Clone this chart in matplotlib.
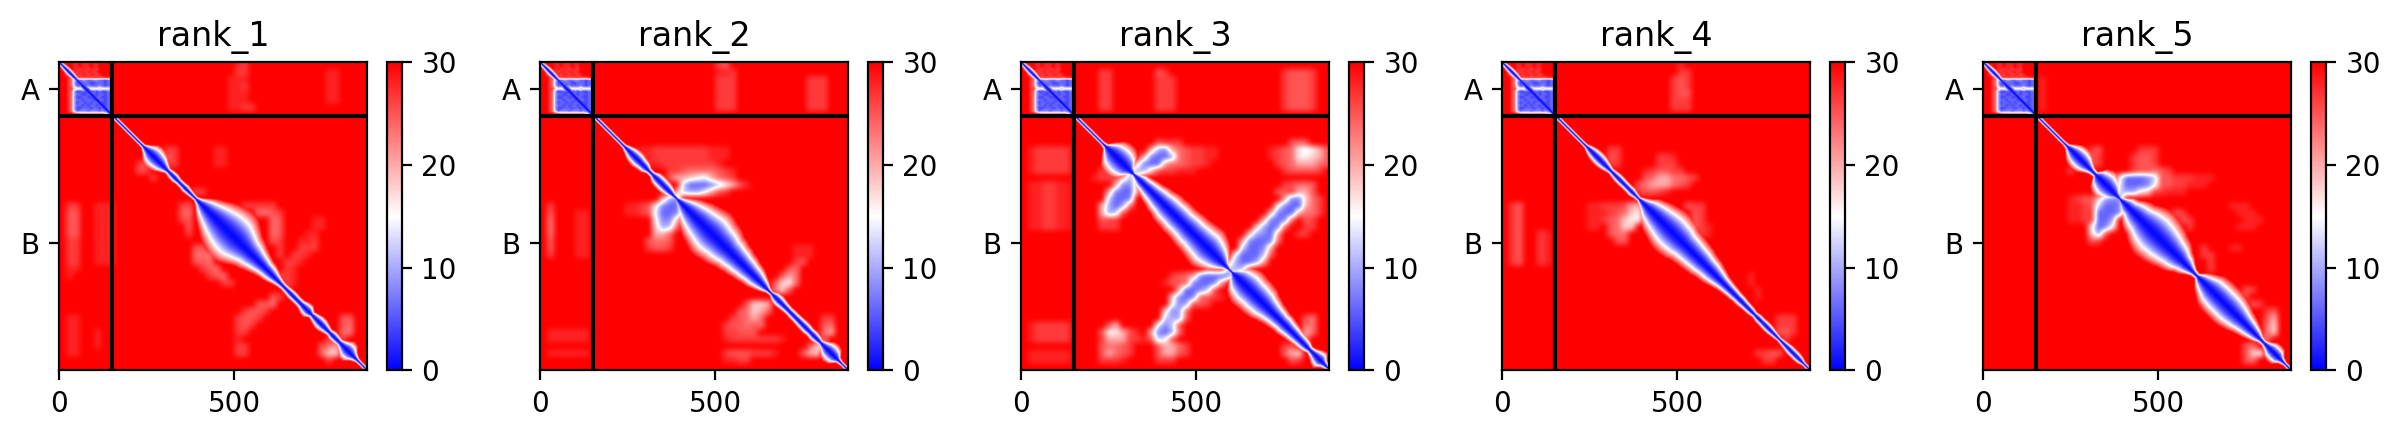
import numpy as np
import matplotlib
matplotlib.use("Agg")
import matplotlib.pyplot as plt

DPI = 200
chain_lengths = [152, 726]
chain_names = ["A", "B"]
titles = ["rank_1", "rank_2", "rank_3", "rank_4", "rank_5"]
panel_left_px = [59, 540, 1021, 1502, 1983]

# half-width (residues, |i-j|) of the blue band along the diagonal
band_pos_shared = [0, 10, 20, 30, 40, 50, 60, 70, 80, 90, 100, 110, 120, 130, 140, 150, 160, 170, 180, 190, 200, 210, 220, 230]
band_w_shared = [5, 6, 8, 9, 8, 6, 9, 12, 14, 14, 14, 14, 14, 14, 10, 6, 5, 5, 5, 5, 5, 5, 5, 5]
band_pos_rest = list(range(240, 890, 10))
rank_1_band = [6,16,28,32,30,25,16,8,11,12,
               9,9,11,9,7,6,14,26,36,44,
               52,60,66,72,76,78,78,74,66,58,
               50,46,40,35,30,26,24,20,15,11,
               9,10,12,12,11,12,17,19,9,13,
               17,17,13,9,13,12,10,18,28,26,
               13,6,5,5,5]
rank_2_band = [6,12,18,21,21,18,16,8,8,16,
               18,18,17,14,8,6,16,26,36,44,
               50,56,60,64,68,70,68,64,62,58,
               52,50,46,44,40,38,34,32,28,22,
               16,8,6,14,16,14,12,11,12,12,
               13,14,14,12,14,12,8,16,26,28,
               24,8,5,5,5]
rank_3_band = [8,26,42,48,50,48,40,18,6,14,
               22,24,28,31,34,38,40,44,46,46,
               48,48,48,50,52,52,54,56,58,60,
               56,50,42,30,14,6,6,28,44,50,
               54,54,52,52,50,48,42,38,34,32,
               29,29,26,24,22,20,19,16,10,14,
               22,26,12,6,5]
rank_4_band = [6,12,16,18,18,16,12,8,10,12,
               12,11,11,12,8,6,14,24,36,42,
               48,52,56,60,62,62,60,58,52,50,
               48,46,44,42,38,36,34,30,26,22,
               20,18,17,15,15,13,12,11,8,11,
               11,12,12,10,8,6,8,10,12,12,
               12,10,5,5,5]
rank_5_band = [7,18,28,32,32,28,18,10,8,30,
               38,42,38,30,14,6,16,28,32,42,
               48,52,60,66,70,72,70,68,64,60,
               54,50,44,34,28,18,10,8,22,32,
               40,48,50,52,52,52,52,50,46,42,
               36,32,28,23,18,10,8,14,24,26,
               24,10,5,5,5]

# PAE value for each hex digit used in the tables below
digit_to_pae = [0, 2, 4, 6, 8, 10, 12, 14, 16, 18, 20, 23.5, 25, 26.5, 28, 30]

# chain A block: hex digits per 8-residue cell
chain_a_block = [
    "0dfffeefeeefeefffff",
    "d1dffeefeeefeefffff",
    "fd1cfeedeedeedfffff",
    "ffc1cedeedeedefffff",
    "ffdc2cedeedeedeffff",
    "fffdc8cdddddddddeef",
    "fffdb63344334433233",
    "fffdb52233322333233",
    "fffdb63333433343233",
    "fffdd9888a8888a8886",
    "fffdb52232323232233",
    "fffdb53322333233233",
    "fffdb52233222332233",
    "fffdb53323332233233",
    "fffdb52332323332233",
    "fffdb53323233233233",
    "fffdb52233323323233",
    "fffdb63444344434333",
    "fffffedbbbbbbbbb8bf",
]

# off-diagonal cells on a 20-residue grid: (row, first column, hex digits)
rank_1_cells = [
    (0,25,"ed"),(1,25,"dd"),(2,24,"eee"),(3,24,"eed"),(4,24,"eee"),(5,24,"eee"),(6,24,"eedd"),
    (1,38,"ee"),(2,38,"ee"),(3,38,"ee"),(4,38,"ee"),(5,38,"ee"),
    (20,1,"dd"),(21,1,"cc"),(22,1,"cc"),(23,1,"cc"),(24,1,"cc"),(25,1,"dd"),(26,1,"dd"),(27,1,"dd"),(28,1,"dd"),(29,1,"ee"),(30,1,"e"),
    (20,5,"eee"),(21,5,"eee"),(22,5,"eee"),(23,5,"eee"),(24,5,"eee"),(25,5,"eee"),(26,5,"eee"),(27,5,"eee"),(28,5,"eee"),
    (36,1,"ee"),(37,1,"ee"),(38,1,"ee"),(39,1,"ee"),(40,1,"ee"),(41,1,"ee"),(38,5,"e"),(39,5,"e"),(40,5,"e"),
    (20,26,"ddddd"),(21,28,"bbcd"),(22,30,"bc"),(23,30,"bc"),(24,30,"bc"),(25,30,"cd"),(26,31,"d"),(27,31,"d"),
    (26,19,"cc"),(27,19,"bbb"),(28,19,"ccb"),(29,20,"dcb"),(30,21,"dcb"),(31,23,"dd"),
    (20,17,"dc"),(21,17,"cb"),(22,17,"dc"),(23,18,"c"),(24,18,"d"),
    (22,36,"ee"),(23,36,"ee"),(24,35,"ee"),(25,34,"eed"),(26,34,"ddd"),(27,33,"dde"),(28,32,"dde"),(29,32,"de"),(30,31,"dde"),(31,32,"de"),(32,32,"d"),
    (33,30,"cd"),(34,28,"ccb"),(35,26,"dccd"),(36,25,"dccd"),(37,25,"dcd"),(38,25,"dd"),(39,25,"e"),(40,25,"dd"),(41,25,"dd"),
    (39,38,"d"),(40,37,"cba"),(41,37,"b99"),(42,38,"d"),(36,40,"cc"),(37,40,"cb"),(38,40,"bb"),(39,40,"d"),
    (12,15,"dd"),(13,15,"cd"),(14,15,"dd"),(14,11,"dc"),(15,11,"cd"),(16,13,"d"),
    (12,22,"ee"),(13,22,"ee"),(14,22,"ee"),(18,19,"dd"),
]
rank_2_cells = [
    (0,25,"dc"),(1,25,"eed"),(2,25,"ddd"),(3,25,"ddd"),(4,25,"ddd"),(5,25,"ddd"),(6,25,"ddd"),
    (2,38,"ddd"),(3,38,"ddd"),(4,38,"ddd"),(5,38,"ddd"),(6,38,"ddd"),
    (20,1,"d"),(21,1,"c"),(22,1,"b"),(23,1,"b"),(24,1,"b"),(25,1,"c"),(26,1,"c"),(27,1,"d"),
    (21,5,"ee"),(22,5,"ee"),(23,5,"ee"),(24,5,"ee"),(25,5,"ee"),(26,5,"ee"),(27,5,"ee"),
    (38,1,"eeeeee"),(39,1,"eeeeee"),(41,1,"eeeeee"),
    (12,14,"eeddddddddeee"),(13,14,"eeddddddddeee"),(14,15,"eedddddddde"),
    (15,18,"ddcbbbbcde"),(16,18,"caa987abcd"),(17,20,"6333468ace"),(18,19,"a6557acd"),
    (20,12,"eedc"),(21,12,"eedc"),(19,17,"a54"),(20,16,"8433"),(21,16,"7334a"),(22,16,"8449"),(23,16,"956b"),(24,16,"aab"),(25,15,"cbbc"),(26,15,"dccd"),
    (26,36,"eee"),(27,36,"eee"),(28,36,"dc"),(29,35,"cb"),(30,34,"cab"),(31,33,"c98b"),(32,33,"b9c"),
    (34,29,"c99a"),(35,28,"cb9ab"),(36,27,"dcbab"),(37,26,"dccbcb"),(38,26,"ddccc"),(39,26,"eddddddde"),
    (41,26,"dcccddde"),(42,26,"eedd"),
    (41,37,"ca9"),(40,38,"c99"),(36,40,"dd"),(37,40,"cb"),(38,40,"ba"),(39,40,"c"),
]
rank_3_cells = [
    (1,11,"dd"),(2,11,"dd"),(3,11,"dd"),(4,11,"dd"),(5,11,"dd"),(6,11,"dd"),
    (1,19,"cd"),(2,19,"ddd"),(3,19,"ddd"),(4,19,"ddd"),(5,19,"ddd"),(6,19,"ddd"),
    (1,37,"dcccd"),(2,37,"dcccd"),(3,37,"dcccd"),(4,37,"dcccd"),(5,37,"dcccd"),(6,37,"dcccd"),
    (12,1,"eddddd"),(13,1,"eddddd"),(14,1,"eddddd"),(15,1,"eddddd"),
    (17,1,"eeddee"),(18,1,"eeddee"),(19,1,"eeddee"),(20,1,"eeddee"),(21,1,"eeddee"),(22,1,"eeddee"),(23,1,"eeddee"),
    (37,1,"eddddd"),(38,1,"eddddd"),(39,1,"eddddd"),(41,1,"eeeeee"),(42,1,"eeeeee"),
    (12,18,"a54a"),(13,17,"a4335"),(14,16,"9433a"),(15,15,"8559"),
    (11,19,"cddd"),(12,22,"bcddee"),(13,22,"bcddee"),(14,21,"bbcdde"),(15,19,"cddeee"),
    (16,14,"a5a"),(17,13,"a44a"),(18,12,"a433a"),(19,12,"6334"),(20,11,"a535b"),(21,11,"a56c"),
    (15,11,"ddd"),(16,10,"eddd"),(22,11,"cdd"),(23,11,"ddd"),
    (19,37,"a44b"),(20,36,"8433a"),(21,35,"a433a"),(22,34,"a434b"),(23,33,"9534b"),(24,32,"9543a"),(25,31,"a4334b"),(26,31,"6334a"),(27,30,"73336c"),(28,29,"a5335a"),(29,29,"656c"),
    (30,24,"a43334a"),(31,23,"a4334a"),(32,22,"a3346c"),(33,21,"9434b"),(34,21,"845c"),(35,20,"945b"),(36,20,"655c"),(37,19,"746c"),(38,18,"a435b"),(39,18,"c67c"),
    (29,26,"cdd"),(30,21,"dcb"),(31,20,"eccb"),(33,26,"cde"),(34,25,"cd"),
    (18,36,"ccd"),(17,37,"dcbc"),(17,39,"bbc"),(18,39,"aac"),(19,40,"9bd"),(20,40,"abd"),(21,40,"bbd"),(22,40,"cd"),(23,40,"dd"),(24,39,"dd"),
    (11,38,"cbc"),(12,35,"edcb878ac"),(13,35,"edcb889ac"),(14,36,"dcbaaabc"),(15,37,"dccccd"),
    (37,12,"ca"),(38,11,"c88ace"),(39,11,"daaadde"),(40,11,"cbbcd"),(41,11,"cabcd"),(42,11,"ddde"),
    (40,19,"caabd"),(41,19,"caacd"),(42,19,"ddd"),
    (36,40,"cb"),(37,40,"bb"),(38,40,"ab"),(39,39,"ab"),(40,37,"dc"),(41,37,"ba9"),(42,38,"cd"),
]
rank_4_cells = [
    (0,25,"e"),(1,25,"dd"),(2,24,"dcd"),(3,24,"dcd"),(4,24,"dcc"),(5,24,"ddd"),(6,24,"ddd"),
    (20,1,"dc"),(21,1,"dc"),(22,1,"dc"),(23,1,"dc"),(24,1,"dc"),(25,1,"dc"),(26,1,"dc"),(27,1,"dc"),(28,1,"dc"),
    (24,5,"de"),(25,5,"de"),(26,5,"de"),(27,5,"de"),(28,5,"de"),
    (16,20,"cbaabbcd"),(17,19,"cbaaabcd"),(15,20,"edccdd"),(14,22,"ddd"),(13,22,"dde"),(18,19,"dccde"),
    (20,15,"ddcaa"),(21,14,"edcb98"),(22,14,"dcb988"),(23,15,"cb99"),(24,15,"cbb"),(25,16,"cc"),
    (20,12,"eed"),(21,12,"ee"),(22,12,"ee"),(23,12,"ee"),
    (20,26,"cdd"),(21,27,"cd"),(22,27,"cd"),(23,27,"cde"),(24,28,"de"),
    (12,15,"dd"),(13,15,"cd"),(14,15,"dd"),
    (36,39,"ddd"),(37,39,"ddd"),(38,39,"ccd"),(39,40,"d"),(41,36,"ddcc"),(42,37,"dd"),
    (30,35,"e"),(31,35,"e"),(32,36,"e"),(33,36,"e"),
]
rank_5_cells = [
    (2,8,"e"),(3,8,"e"),(4,8,"e"),(5,8,"e"),(6,8,"e"),
    (16,19,"833346c"),(17,19,"733347c"),(18,19,"65589d"),
    (12,22,"ddd"),(13,21,"dccd"),(14,21,"dccd"),(15,21,"dccbcd"),(16,26,"cdddeee"),(17,26,"cddeee"),(18,25,"deee"),
    (19,16,"9544"),(20,16,"6334"),(21,15,"83334"),(22,15,"8335"),(23,15,"8348"),(24,15,"95c"),(25,15,"cd"),
    (19,12,"edcc"),(20,12,"eedc"),(21,12,"eedd"),(22,12,"eedd"),
    (21,27,"cd"),(22,28,"cd"),(23,29,"d"),(26,31,"d"),(27,31,"dd"),(28,32,"d"),(29,32,"d"),
    (20,35,"eee"),(21,36,"eee"),(22,37,"eee"),(23,36,"eee"),(26,35,"ee"),
    (32,37,"cd"),(33,36,"dd"),(34,38,"cd"),(33,31,"cd"),(34,31,"cd"),
    (35,40,"dc"),(36,40,"ca"),(37,40,"b9"),(38,40,"b9"),(39,39,"cb"),(40,37,"cb"),(41,37,"c98"),(42,37,"cb"),
    (12,15,"dc"),(13,15,"cd"),(14,15,"cd"),(15,12,"d"),
]

all_bands = [rank_1_band, rank_2_band, rank_3_band, rank_4_band, rank_5_band]
all_cells = [rank_1_cells, rank_2_cells, rank_3_cells, rank_4_cells, rank_5_cells]
N = sum(chain_lengths)
LA = chain_lengths[0]


def upsample(grid, step, size):
    centers = (np.arange(grid.shape[0]) + 0.5) * step
    idx = np.arange(size) + 0.5
    a = np.array([np.interp(idx, centers, row) for row in grid])
    return np.array([np.interp(idx, centers, col) for col in a.T]).T


def soften(a, n):
    kernel = np.ones(n) / n
    a = np.pad(a, n, constant_values=30.0)
    a = np.apply_along_axis(lambda r: np.convolve(r, kernel, mode="same"), 0, a)
    a = np.apply_along_axis(lambda r: np.convolve(r, kernel, mode="same"), 1, a)
    return a[n:-n, n:-n]


def build(band, cells):
    grid = np.full((44, 44), 30.0)
    for r, c, s in cells:
        for k, ch in enumerate(s):
            grid[r, c + k] = digit_to_pae[int(ch, 16)]
    base = soften(upsample(grid, 20, N), 15)
    block = np.array([[digit_to_pae[int(ch, 16)] for ch in row[:19]] for row in chain_a_block], float)
    base[:LA, :LA] = upsample(block, 8, LA)
    ii, jj = np.meshgrid(np.arange(N), np.arange(N), indexing="ij")
    p = (ii + jj) / 2
    d = np.abs(ii - jj).astype(float)
    w = np.interp(p, band_pos_shared + band_pos_rest, band_w_shared + band)
    inner = 0.5 + 14.5 * (d / w) ** 1.6
    fade = 3 + 0.6 * w
    outer = 15 + 15 * (d - w) / fade
    v = np.where(d <= w, inner, outer)
    return np.minimum(np.clip(base, 0, 30), np.clip(v, 0, 30))


W, H = 2401, 438
fig = plt.figure(figsize=(W / DPI, H / DPI), dpi=DPI)
top, bottom, size = 62.3, 370.3, 308
for k, left in enumerate(panel_left_px):
    ax = fig.add_axes([left / W, 1 - bottom / H, size / W, size / H])
    im = ax.imshow(build(all_bands[k], all_cells[k]), cmap="bwr", vmin=0, vmax=30, extent=(0, N, N, 0))
    edge = 0
    for L in chain_lengths[:-1]:
        edge += L
        ax.plot([0, N], [edge, edge], color="black")
        ax.plot([edge, edge], [0, N], color="black")
    ax.set_xlim(0, N)
    ax.set_ylim(N, 0)
    cum = np.cumsum([0] + chain_lengths)
    ax.set_yticks((cum[1:] + cum[:-1]) / 2, chain_names)
    ax.set_xticks([0, 500])
    ax.set_title(titles[k])
    cax = fig.add_axes([(left + 327.7) / W, 1 - bottom / H, 15.3 / W, size / H])
    fig.colorbar(im, cax=cax, ticks=[0, 10, 20, 30])
fig.savefig("out.png", dpi=DPI)
